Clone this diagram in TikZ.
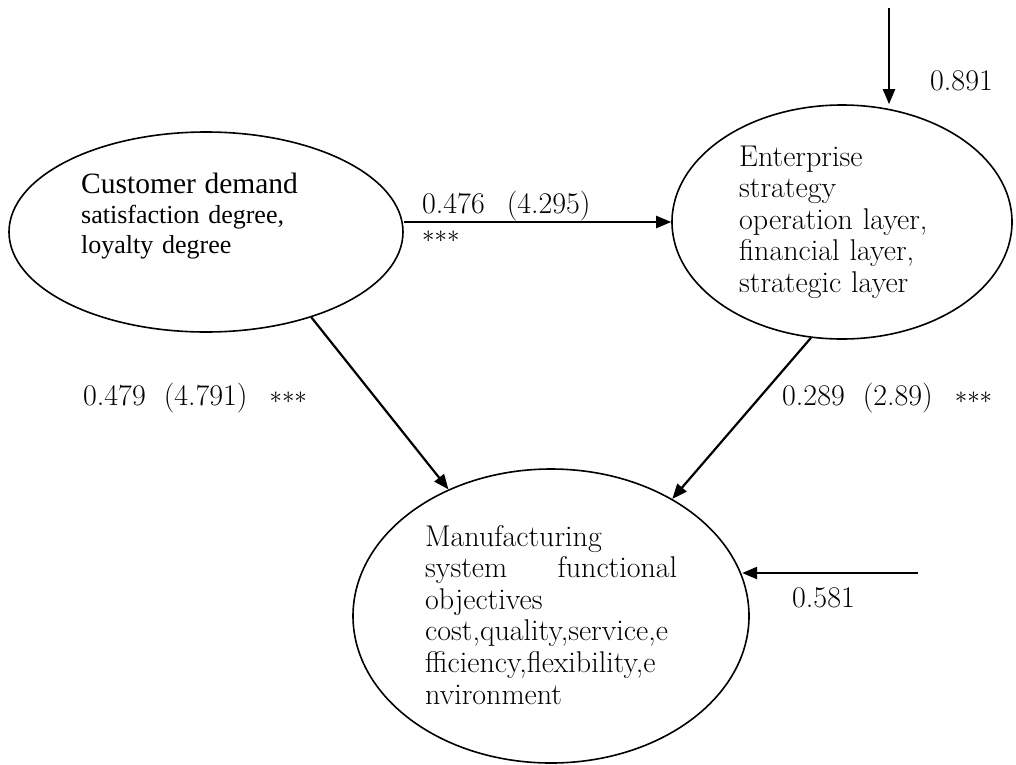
\documentclass[tikz,border=0pt]{standalone}
\usepackage{fontspec}
\newfontfamily\timesf{Liberation Serif}
\usetikzlibrary{shapes.geometric,arrows.meta}
\tikzset{
  oval/.style={ellipse, draw, line width=1.6pt, inner sep=0pt},
  arr/.style={line width=2.2pt, -{Triangle[length=15pt,width=12pt]}},
  lmtext/.style={anchor=base west, inner sep=0pt, align=left, font=\fontsize{30}{31.6}\selectfont},
  num/.style={anchor=base west, inner sep=0pt, font=\fontsize{30}{31.6}\selectfont},
}
\newcommand{\stars}{\raisebox{2pt}{${\ast}{\ast}{\ast}$}}
\begin{document}
\begin{tikzpicture}[x=1pt,y=-1pt]
\useasboundingbox[fill=white] (0,0) rectangle (1016,764);
% ellipses
\node[oval, minimum width=394pt, minimum height=200pt] (C) at (206,232) {};
\node[oval, minimum width=340pt, minimum height=234pt] (E) at (842,222) {};
\node[oval, minimum width=396pt, minimum height=294pt] (M) at (551,616) {};
% texts
\node[anchor=base west, inner sep=0pt, align=left, text width=300pt,
      font=\timesf\fontsize{26}{30}\selectfont] (Ct) at (81,193)
  {{\fontsize{29.5}{30}\selectfont Customer demand}\\
   satisfaction degree,\\
   loyalty degree};
\node[lmtext, text width=260pt] (Et) at (739,166)
  {Enterprise\\ strategy\\ operation layer,\\ financial layer,\\ strategic layer};
\node[lmtext, text width=252pt] (Mt) at (425,546)
  {Manufacturing\\ system\hfill functional\\ objectives\\ cost,quality,service,e\\ fficiency,flexibility,e\\ nvironment};
% free ends
\coordinate (topc) at (889,8);
\coordinate (rc) at (918,573);
% connectors
\draw[arr] (E.west -| C.east) -- (E.west);
\draw[arr] (topc) -- (topc |- E.north);
\draw[arr] (C.-39.4) -- (M.129.7);
\draw[arr] (E.-105.8) -- (M.44.3);
\draw[arr] (rc) -- (rc -| M.12.8);
% labels
\node[num] (l1) at (422,213) {0.476\hspace{22pt}(4.295)};
\node[num] (l1s) at (422,244) {\stars};
\node[num] (l2) at (83,405) {0.479\hspace{18pt}(4.791)\hspace{22pt}\stars};
\node[num] (l3) at (782,405) {0.289\hspace{18pt}(2.89)\hspace{22pt}\stars};
\node[num] (l4) at (930,90) {0.891};
\node[num] (l5) at (792,607) {0.581};
\end{tikzpicture}
\end{document}
